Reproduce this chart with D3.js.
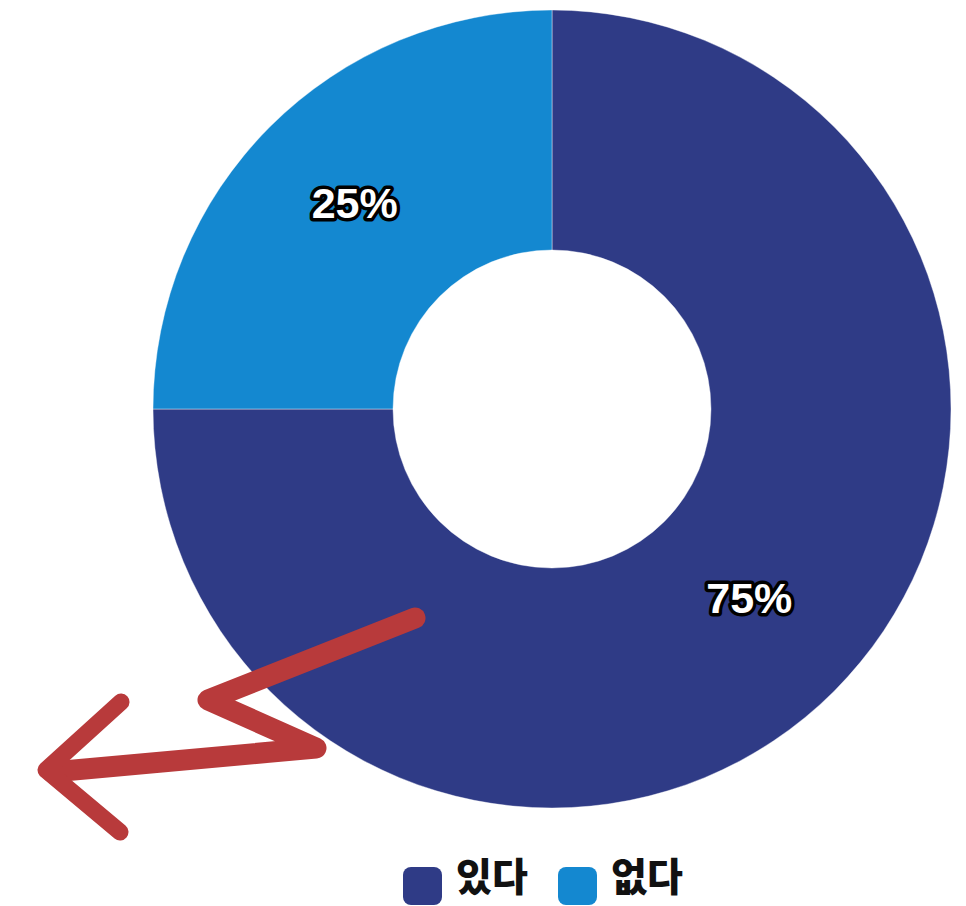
<!DOCTYPE html>
<html>
<head>
<meta charset="utf-8">
<script src="https://cdn.jsdelivr.net/npm/d3@7"></script>
<style>
  body { margin: 0; background: #fff; }
  svg { display: block; }
</style>
</head>
<body>
<div id="chart"></div>
<script>
// chart data
const categories = ["있다", "없다"];
const values = [75, 25];
const colors = ["#2f3b86", "#1488d0"];

const width = 966, height = 906;
const cx = 552, cy = 409;
const outerR = 399, innerR = 159;

const svg = d3.select("#chart").append("svg")
    .attr("width", width)
    .attr("height", height);

const g = svg.append("g")
    .attr("transform", "translate(" + cx + "," + cy + ")");

const pie = d3.pie().sort(null).value(d => d.value);
const arc = d3.arc().innerRadius(innerR).outerRadius(outerR);

const slices = pie(categories.map((c, i) => ({name: c, value: values[i], color: colors[i]})));

g.selectAll("path.slice")
    .data(slices)
    .enter().append("path")
    .attr("class", "slice")
    .attr("d", arc)
    .attr("fill", d => d.data.color)
    .attr("stroke", "#ffffff")
    .attr("stroke-opacity", 0.4)
    .attr("stroke-width", 1);

// percentage labels
const total = d3.sum(values);
g.selectAll("text.pct")
    .data(slices)
    .enter().append("text")
    .attr("class", "pct")
    .attr("transform", d => "translate(" + arc.centroid(d) + ")")
    .attr("text-anchor", "middle")
    .attr("dy", "0.15em")
    .attr("font-family", "Liberation Sans, Arial, sans-serif")
    .attr("font-weight", "bold")
    .attr("font-size", "43px")
    .attr("fill", "#fff")
    .attr("stroke", "#000")
    .attr("stroke-width", 7)
    .attr("stroke-linejoin", "round")
    .attr("paint-order", "stroke")
    .text(d => Math.round(d.data.value / total * 100) + "%");

// legend
const legend = svg.append("g").attr("class", "legend");
const legendX = [403, 558];
const items = legend.selectAll("g.item")
    .data(categories)
    .enter().append("g")
    .attr("class", "item")
    .attr("transform", (d, i) => "translate(" + legendX[i] + ",867)");

items.append("rect")
    .attr("width", 39)
    .attr("height", 38)
    .attr("rx", 8)
    .attr("fill", (d, i) => colors[i]);

items.append("text")
    .attr("x", 53)
    .attr("y", 10)
    .attr("dy", "0.35em")
    .attr("font-family", "Noto Sans CJK KR, sans-serif")
    .attr("font-weight", "900")
    .attr("font-size", "39px")
    .attr("fill", "#111")
    .text(d => d);

// red hand-drawn arrow annotation
const arrowShaft = [[415, 618], [208, 700], [316, 748], [52, 772]];
const arrowHead = [[121, 702], [46, 770], [120, 832]];

svg.append("path")
    .attr("d", d3.line()(arrowShaft))
    .attr("fill", "none")
    .attr("stroke", "#b83a3b")
    .attr("stroke-width", 21)
    .attr("stroke-linecap", "round")
    .attr("stroke-linejoin", "round");

svg.append("path")
    .attr("d", d3.line()(arrowHead))
    .attr("fill", "none")
    .attr("stroke", "#b83a3b")
    .attr("stroke-width", 17)
    .attr("stroke-linecap", "round")
    .attr("stroke-linejoin", "round");
</script>
</body>
</html>
